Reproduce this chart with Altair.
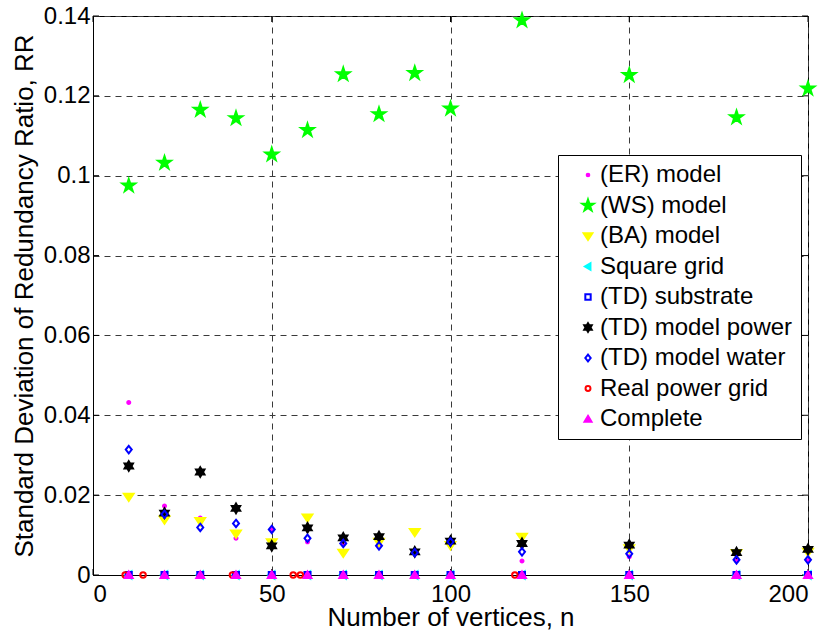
import math
import altair as alt
import pandas as pd

# ---------------- data ----------------
xs = [10, 20, 30, 40, 50, 60, 70, 80, 90, 100, 120, 150, 180, 200]

er_model = [0.0432, 0.0173, 0.0143, 0.0092, 0.0114, 0.0083, 0.0078, 0.0075, 0.0055, 0.0080, 0.0035, 0.0046, 0.0036, 0.0036]
ws_model = [0.0975, 0.1032, 0.1165, 0.1144, 0.1053, 0.1114, 0.1254, 0.1154, 0.1257, 0.1168, 0.1389, 0.1252, 0.1146, 0.1218]
ba_model = [0.0196, 0.0139, 0.0135, 0.0104, 0.0082, 0.0144, 0.0056, 0.0083, 0.0108, 0.0075, 0.0096, 0.0067, 0.0055, 0.0058]
square_grid = [0, 0, 0, 0, 0, 0, 0, 0, 0, 0, 0, 0, 0, 0]
td_substrate = [0, 0, 0, 0, 0, 0, 0, 0, 0, 0, 0, 0, 0, 0]
td_power = [0.0273, 0.0155, 0.0258, 0.0167, 0.0073, 0.0118, 0.0093, 0.0096, 0.0058, 0.0085, 0.0079, 0.0075, 0.0056, 0.0064]
td_water = [0.0314, 0.0152, 0.0119, 0.0129, 0.0114, 0.0092, 0.0079, 0.0073, 0.0056, 0.0083, 0.0058, 0.0053, 0.0038, 0.0038]
real_x = [9, 14, 39, 56, 58, 118]
real_grid = [0, 0, 0, 0, 0, 0]
complete = [0, 0, 0, 0, 0, 0, 0, 0, 0, 0, 0, 0, 0, 0]

names = ["(ER) model", "(WS) model", "(BA) model", "Square grid", "(TD) substrate",
         "(TD) model power", "(TD) model water", "Real power grid", "Complete"]
stroke_colors = ["#ff00ff", "#00ff00", "#ffff00", "#00ffff", "#0000ff",
                 "#000000", "#0000ff", "#ff0000", "#ff00ff"]
fill_colors = ["#ff00ff", "#00ff00", "#ffff00", "#00ffff", "transparent",
               "#000000", "transparent", "transparent", "#ff00ff"]

x_ticks = [0, 50, 100, 150, 200]
y_ticks = [0, 0.02, 0.04, 0.06, 0.08, 0.1, 0.12, 0.14]

series_x = [xs, xs, xs, xs, xs, xs, xs, real_x, xs]
series_y = [er_model, ws_model, ba_model, square_grid, td_substrate,
            td_power, td_water, real_grid, complete]

rows = []
for nm, sx, sy in zip(names, series_x, series_y):
    for a, b in zip(sx, sy):
        rows.append({"series": nm, "x": a, "y": b})
df = pd.DataFrame(rows)


# ---------------- marker shapes (unit paths) ----------------
def star(n, R, r):
    pts = []
    for i in range(2 * n):
        ang = -math.pi / 2 + i * math.pi / n
        rad = R if i % 2 == 0 else r
        pts.append((rad * math.cos(ang), rad * math.sin(ang)))
    return "M " + " L ".join(f"{px:.3f} {py:.3f}" for px, py in pts) + " Z"


def circle(r):
    return f"M {-r} 0 A {r} {r} 0 1 0 {r} 0 A {r} {r} 0 1 0 {-r} 0 Z"


shapes = [
    circle(0.3),
    star(5, 1.35, 0.52),
    "M -0.97 -0.6 L 0.97 -0.6 L 0 0.86 Z",
    "M 0.55 -0.75 L 0.55 0.75 L -0.7 0 Z",
    "M -0.6 -0.6 L 0.6 -0.6 L 0.6 0.6 L -0.6 0.6 Z",
    star(6, 0.97, 0.56),
    "M 0 -0.75 L 0.6 0 L 0 0.75 L -0.6 0 Z",
    circle(0.55),
    "M 0 -0.7 L 0.78 0.6 L -0.78 0.6 Z",
]

FONT = "Liberation Sans"
W, H = 715, 559

leg = alt.Legend(
    title=None, orient="none", legendX=465, legendY=139,
    fillColor="white", strokeColor="black",
    padding=8, rowPadding=6.5, symbolSize=80, symbolStrokeWidth=2,
    symbolOffset=10, labelOffset=0,
    labelFont=FONT, labelFontSize=24, labelColor="black", labelLimit=400,
)

xscale = alt.Scale(domain=[0, 200], nice=False, zero=False)
yscale = alt.Scale(domain=[0, 0.14], nice=False, zero=False)

xaxis = alt.Axis(values=x_ticks, format="d", title="Number of vertices, n",
                 grid=True, ticks=False, labelPadding=7,
                 titleBaseline="alphabetic", titleY=50, titleX=W / 2, titleAlign="center")
yaxis = alt.Axis(values=y_ticks, format="~r", title="Standard Deviation of Redundancy Ratio, RR",
                 grid=True, ticks=False, labelPadding=3,
                 titleBaseline="alphabetic", titleX=-61, titleY=H / 2, titleAngle=-90,
                 titleAlign="center")

xenc = alt.X("x:Q", scale=xscale, axis=xaxis)
yenc = alt.Y("y:Q", scale=yscale, axis=yaxis)

points = alt.Chart(df).mark_point(size=100, opacity=1, fillOpacity=1, strokeWidth=2).encode(
    x=xenc,
    y=yenc,
    shape=alt.Shape("series:N", scale=alt.Scale(domain=names, range=shapes), legend=leg),
    stroke=alt.Stroke("series:N", scale=alt.Scale(domain=names, range=stroke_colors), legend=leg),
    fill=alt.Fill("series:N", scale=alt.Scale(domain=names, range=fill_colors), legend=leg),
)

ydf = pd.DataFrame({"y": y_ticks})
xdf = pd.DataFrame({"x": x_ticks})

ytick_l = alt.Chart(ydf).mark_rule(color="black", strokeWidth=1).encode(
    y=yenc, x=alt.value(0), x2=alt.value(6))
ytick_r = alt.Chart(ydf).mark_rule(color="black", strokeWidth=1).encode(
    y=yenc, x=alt.value(W - 6), x2=alt.value(W))
xtick_b = alt.Chart(xdf).mark_rule(color="black", strokeWidth=1).encode(
    x=xenc, y=alt.value(H - 6), y2=alt.value(H))
xtick_t = alt.Chart(xdf).mark_rule(color="black", strokeWidth=1).encode(
    x=xenc, y=alt.value(0), y2=alt.value(6))

chart = alt.layer(ytick_l, ytick_r, xtick_b, xtick_t, points).properties(
    width=W, height=H,
    autosize=alt.AutoSizeParams(type="none"),
    padding={"left": 93, "top": 16, "right": 22, "bottom": 57},
    background="white",
).configure_view(
    stroke="black", strokeWidth=1
).configure_axis(
    labelFont=FONT, labelFontSize=24, labelColor="black",
    titleFont=FONT, titleFontSize=26, titleFontWeight="normal", titleColor="black",
    domainColor="black", domainWidth=1,
    gridColor="#3a3a3a", gridDash=[6, 5], gridWidth=1, gridOpacity=1,
)

chart.save("out.html", embed_options={"renderer": "svg", "actions": False})
